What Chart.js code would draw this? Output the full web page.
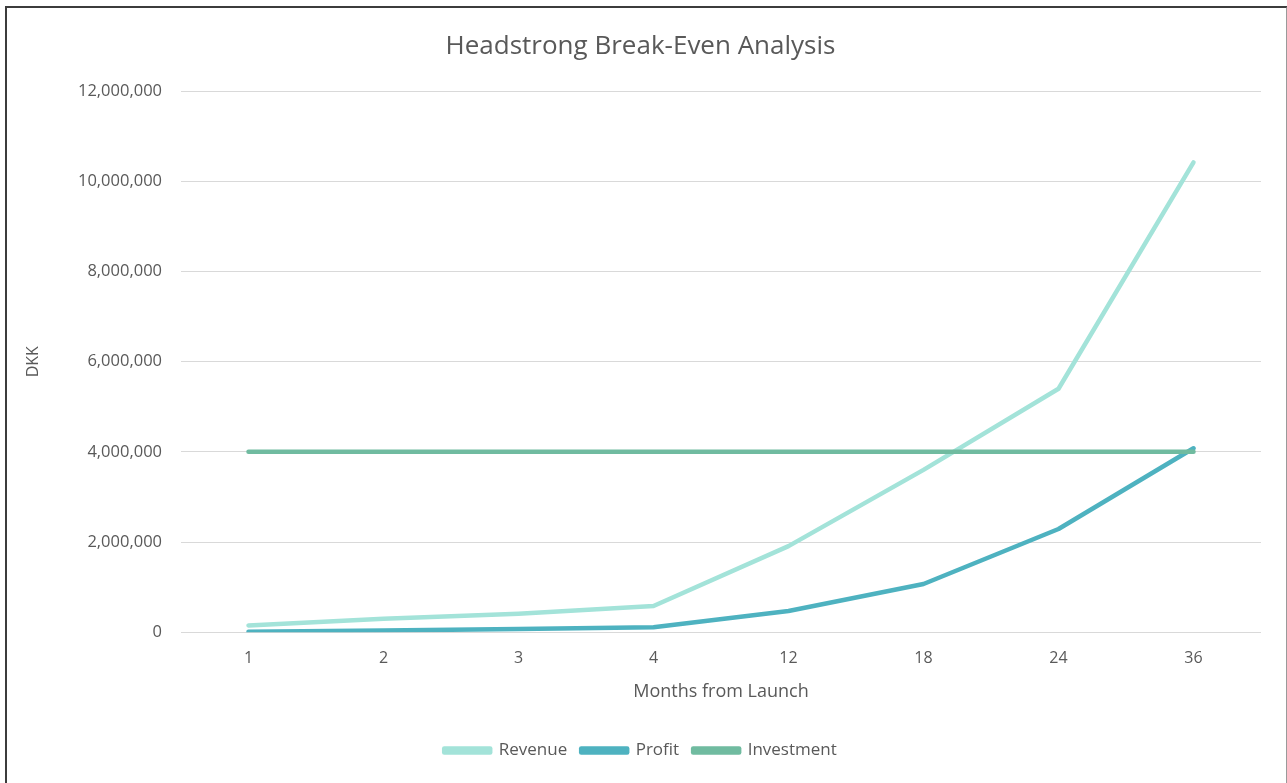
<!DOCTYPE html>
<html>
<head>
<meta charset="utf-8">
<script src="https://cdn.jsdelivr.net/npm/chart.js@4"></script>
<style>
  html, body { margin: 0; padding: 0; background: #fff; }
  #frame {
    position: absolute; left: 5px; top: 6px;
    width: 1279px; height: 800px;
    border-left: 2px solid #3c3c3c;
    border-top: 2px solid #3c3c3c;
    border-right: 2px solid #9a9a9a;
  }
  #wrap { position: absolute; left: 0; top: 0; width: 1287px; height: 783px; }
</style>
</head>
<body>
<div id="frame"></div>
<div id="wrap"><canvas id="breakEvenChart"></canvas></div>
<script>
const months = ['1', '2', '3', '4', '12', '18', '24', '36'];
const revenue = [150000, 300000, 410000, 580000, 1910000, 3600000, 5400000, 10420000];
const profit = [10000, 40000, 70000, 110000, 470000, 1070000, 2290000, 4080000];
const investment = [4000000, 4000000, 4000000, 4000000, 4000000, 4000000, 4000000, 4000000];
const yTicks = [0, 2000000, 4000000, 6000000, 8000000, 10000000, 12000000];

const textColor = '#595959';
const fontFamily = '"Open Sans", sans-serif';

function lineSet(label, data, color, order) {
  return {
    label: label,
    data: data,
    borderColor: color,
    backgroundColor: color,
    borderWidth: 4.5,
    borderCapStyle: 'round',
    borderJoinStyle: 'round',
    pointRadius: 0,
    tension: 0,
    order: order
  };
}

const ctx = document.getElementById('breakEvenChart');

new Chart(ctx, {
  type: 'line',
  data: {
    labels: months,
    datasets: [
      lineSet('Revenue', revenue, 'rgb(163, 227, 217)', 3),
      lineSet('Profit', profit, 'rgb(78, 178, 192)', 2),
      lineSet('Investment', investment, 'rgb(112, 187, 160)', 1)
    ]
  },
  options: {
    responsive: true,
    maintainAspectRatio: false,
    animation: { duration: 0 },
    layout: {
      padding: { left: 20, right: 26, top: 14, bottom: 14 }
    },
    plugins: {
      title: {
        display: true,
        text: 'Headstrong Break-Even Analysis',
        color: textColor,
        font: { family: fontFamily, size: 26, weight: 'normal' },
        padding: { top: 17, bottom: 29 }
      },
      legend: {
        position: 'bottom',
        labels: {
          color: textColor,
          font: { family: fontFamily, size: 17 },
          boxWidth: 46,
          boxHeight: 4,
          padding: 14,
          sort: (a, b) => a.datasetIndex - b.datasetIndex
        }
      },
      tooltip: { enabled: false }
    },
    scales: {
      x: {
        offset: true,
        grid: { display: false },
        border: { display: false },
        ticks: {
          color: textColor,
          font: { family: fontFamily, size: 16 },
          padding: 9
        },
        title: {
          display: true,
          text: 'Months from Launch',
          color: textColor,
          font: { family: fontFamily, size: 18 },
          padding: { top: 4, bottom: 25 }
        }
      },
      y: {
        min: 0,
        max: 12000000,
        afterBuildTicks: axis => {
          axis.ticks = yTicks.map(v => ({ value: v }));
        },
        // fixed axis width so the plot starts right after the tick labels
        afterFit: axis => {
          axis.width = 161;
        },
        grid: { color: '#d9d9d9', drawTicks: false, lineWidth: 1 },
        border: { display: false },
        ticks: {
          color: textColor,
          font: { family: fontFamily, size: 16.5 },
          padding: 19,
          callback: v => v.toLocaleString('en-US')
        },
        title: {
          display: true,
          text: 'DKK',
          color: textColor,
          font: { family: fontFamily, size: 16 },
          padding: { bottom: 4 }
        }
      }
    }
  }
});
</script>
</body>
</html>
